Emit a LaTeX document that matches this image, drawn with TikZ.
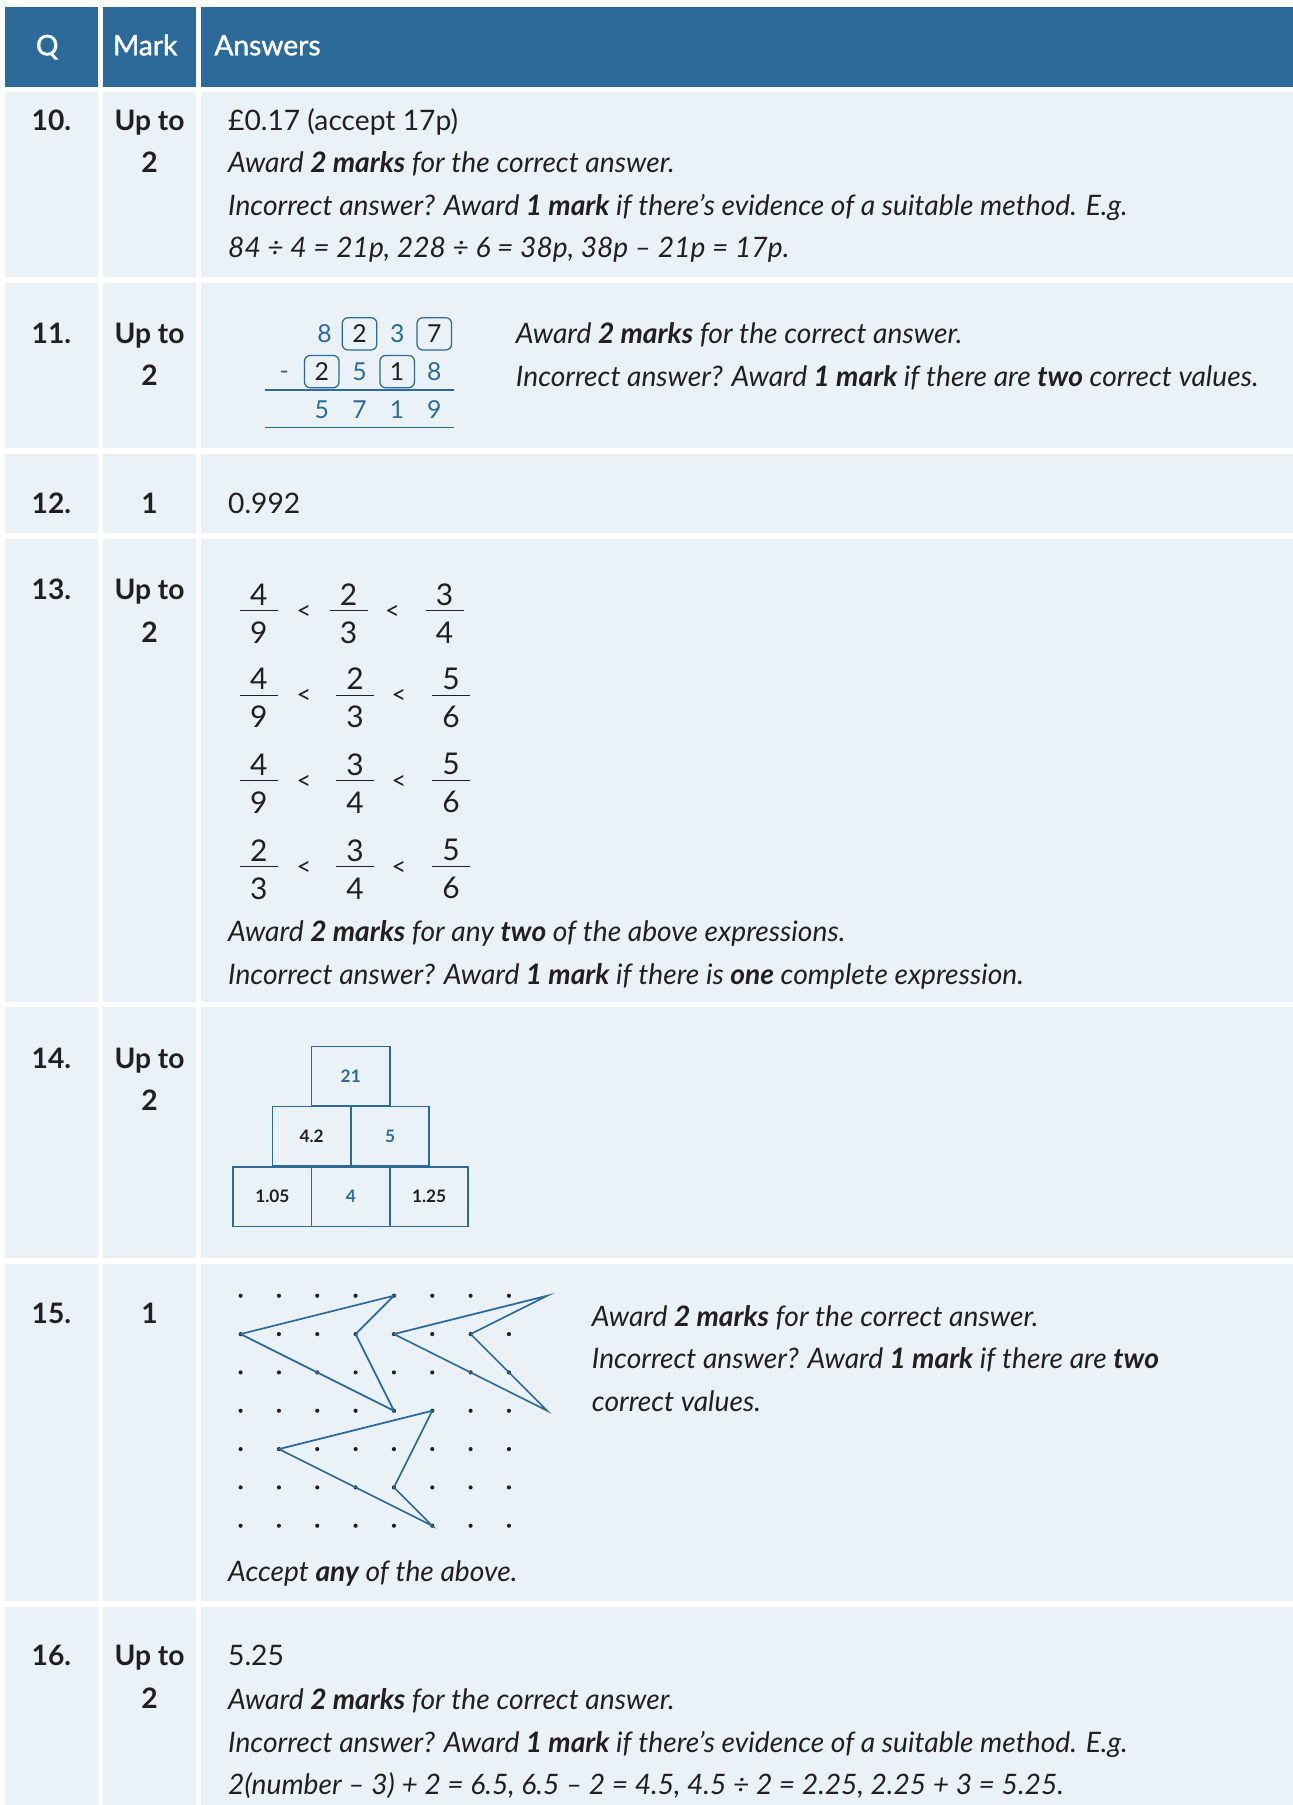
\documentclass[tikz,border=0pt]{standalone}
\usepackage{fontspec}
\setmainfont{Lato}
\newfontfamily\hdrfont{Lato}[FakeBold=1.4]
\usetikzlibrary{positioning}

\definecolor{hdrblue}{HTML}{2C6A9A}
\definecolor{rowbg}{HTML}{EAF2F8}
\definecolor{ink}{HTML}{231F20}

\tikzset{
	hdr/.style={font=\hdrfont\fontsize{24.5}{28}\selectfont, text=white, anchor=base, inner sep=0pt},
	qnum/.style={font=\bfseries\fontsize{24.5}{28}\selectfont, text=ink, anchor=base, inner sep=0pt},
	txt/.style={font=\fontsize{24.5}{28}\selectfont, text=ink, anchor=base west, inner sep=0pt},
	itxt/.style={font=\itshape\fontsize{24.5}{28}\selectfont, text=ink, anchor=base west, inner sep=0pt},
	digit/.style={font=\fontsize{21.5}{26}\selectfont, text=hdrblue, inner sep=0pt},
	dbox/.style={digit, text=ink, draw=hdrblue, line width=1.1pt, rounded corners=5pt, minimum width=30pt, minimum height=28pt},
	fracdigit/.style={font=\fontsize{26}{30}\selectfont, text=ink, inner sep=0pt},
	lt/.style={font=\fontsize{22}{26}\selectfont, text=ink, inner sep=0pt},
	pbox/.style={draw=hdrblue, line width=1.5pt, minimum width=68pt, minimum height=52pt, font=\bfseries\fontsize{15}{18}\selectfont, inner sep=0pt},
	dot/.style={circle, fill=ink, inner sep=0pt, minimum size=3.6pt},
	kite/.style={draw=hdrblue, line width=1.5pt, line join=miter}
}

\begin{document}
\begin{tikzpicture}[x=1pt, y=-1pt]
	\useasboundingbox (0,0) rectangle (1123,1568);
	\fill[white] (0,0) rectangle (1123,1568);

	% header
	\fill[hdrblue] (4.5,6) rectangle (85,75.5);
	\fill[hdrblue] (89.5,6) rectangle (170,75.5);
	\fill[hdrblue] (175,6) rectangle (1123,75.5);
	\node[hdr] (hq) at (41,48) {Q};
	\node[hdr, anchor=base west] (hmark) at (98,48) {Mark};
	\node[hdr, anchor=base west] (hans) at (186,48) {Answers};

	% row backgrounds
	\foreach \t/\b in {80/241, 246/389, 394/463, 468/870, 875/1093, 1098/1391, 1396/1568} {
		\fill[rowbg] (4.5,\t) rectangle (85,\b);
		\fill[rowbg] (89.5,\t) rectangle (170,\b);
		\fill[rowbg] (175,\t) rectangle (1123,\b);
	};

	% question numbers and marks
	\foreach \q/\y in {10/113, 11/298, 12/446, 13/521, 14/928, 15/1150, 16/1447} {
		\node[qnum] (q\q) at (44.7,\y) {\q.};
	};
	\foreach \q/\y in {10/113, 11/298, 13/521, 14/928, 16/1447} {
		\node[qnum] (up\q) at (129.9,\y) {Up to};
		\node[qnum] (mk\q) at (129.9,\y+37) {2};
	};
	\node[qnum] (mk12) at (129.9,446) {1};
	\node[qnum] (mk15) at (129.9,1150) {1};

	% Q10
	\node[txt] (a10a) at (198,113) {£0.17 (accept 17p)};
	\node[itxt] (a10b) at (198,150) {Award \textbf{2 marks} for the correct answer.};
	\node[itxt] (a10c) at (198,187) {Incorrect answer? Award \textbf{1 mark} if there’s evidence of a suitable method. E.g.};
	\node[itxt] (a10d) at (198,224) {84 ÷ 4 = 21p, 228 ÷ 6 = 38p, 38p – 21p = 17p.};

	% Q11
	\node[digit] (s11) at (282,290) {8};
	\node[dbox] (s12) at (312.3,290) {2};
	\node[digit] (s13) at (345.2,290) {3};
	\node[dbox] (s14) at (377.3,290) {7};
	\node[digit] (s20) at (246.8,326) {-};
	\node[dbox] (s21) at (279.5,322.8) {2};
	\node[digit] (s22) at (312.3,322.8) {5};
	\node[dbox] (s23) at (345,322.8) {1};
	\node[digit] (s24) at (377.3,322.8) {8};
	\node[digit] (s31) at (279.5,356) {5};
	\node[digit] (s32) at (312.3,356) {7};
	\node[digit] (s33) at (345,356) {1};
	\node[digit] (s34) at (377.3,356) {9};
	\draw[hdrblue, line width=1.3pt] (230,338.7) -- (394,338.7);
	\draw[hdrblue, line width=1.3pt] (230,371.3) -- (394,371.3);
	\node[itxt] (a11a) at (448,298) {Award \textbf{2 marks} for the correct answer.};
	\node[itxt] (a11b) at (448,336) {Incorrect answer? Award \textbf{1 mark} if there are \textbf{two} correct values.};

	% Q12
	\node[txt] (a12) at (198,446) {0.992};

	% Q13
	\foreach \r/\y/\xb/\xc/\xl/\xm/\na/\da/\nb/\db/\nc/\dc in {
		1/530.4/302.8/386.2/264/341/4/9/2/3/3/4,
		2/603.9/308.5/391.8/264/346.5/4/9/2/3/5/6,
		3/678/308.5/391.8/264/346.5/4/9/3/4/5/6,
		4/752.7/308.5/391.8/264/346.5/2/3/3/4/5/6} {
		\foreach \k/\x/\n/\d in {a/224.8/\na/\da, b/\xb/\nb/\db, c/\xc/\nc/\dc} {
			\node[fracdigit] (n\r\k) at (\x,\y-14) {\n};
			\node[fracdigit] (d\r\k) at (\x,\y+19) {\d};
			\draw[ink, line width=0.9pt] (\x-16.5,\y) -- (\x+16.5,\y);
		};
		\node[lt] (l\r a) at (\xl,\y+1.5) {<};
		\node[lt] (l\r b) at (\xm,\y+1.5) {<};
	};
	\node[itxt] (a13a) at (198,818) {Award \textbf{2 marks} for any \textbf{two} of the above expressions.};
	\node[itxt] (a13b) at (198,855) {Incorrect answer? Award \textbf{1 mark} if there is \textbf{one} complete expression.};

	% Q14
	\node[pbox, text=hdrblue] (p1) at (304.7,935) {21};
	\node[pbox, text=ink] (p2) at (270.7,987.2) {4.2};
	\node[pbox, text=hdrblue] (p3) at (338.8,987.2) {5};
	\node[pbox, text=ink] (p4) at (236.6,1039.5) {1.05};
	\node[pbox, text=hdrblue] (p5) at (304.7,1039.5) {4};
	\node[pbox, text=ink] (p6) at (372.8,1039.5) {1.25};

	% Q15
	\foreach \c in {0,...,7} {
		\foreach \r in {0,...,6} {
			\node[dot] (d\c\r) at (209+33.3*\c,1125.6+33.3*\r) {};
		};
	};
	\coordinate (e80) at (475.4,1125.6);
	\coordinate (e83) at (475.4,1225.5);
	\draw[kite] (d01.center) -- (d40.center) -- (d31.center) -- (d43.center) -- cycle;
	\draw[kite] (d41.center) -- (e80) -- (d61.center) -- (e83) -- cycle;
	\draw[kite] (d14.center) -- (d53.center) -- (d45.center) -- (d56.center) -- cycle;
	\node[itxt] (a15a) at (514,1152) {Award \textbf{2 marks} for the correct answer.};
	\node[itxt] (a15b) at (514,1189) {Incorrect answer? Award \textbf{1 mark} if there are \textbf{two}};
	\node[itxt] (a15c) at (514,1226) {correct values.};
	\node[itxt] (a15d) at (198,1374) {Accept \textbf{any} of the above.};

	% Q16
	\node[txt] (a16a) at (198,1447) {5.25};
	\node[itxt] (a16b) at (198,1485) {Award \textbf{2 marks} for the correct answer.};
	\node[itxt] (a16c) at (198,1522) {Incorrect answer? Award \textbf{1 mark} if there’s evidence of a suitable method. E.g.};
	\node[itxt] (a16d) at (198,1559) {2(number – 3) + 2 = 6.5, 6.5 – 2 = 4.5, 4.5 ÷ 2 = 2.25, 2.25 + 3 = 5.25.};
\end{tikzpicture}
\end{document}
